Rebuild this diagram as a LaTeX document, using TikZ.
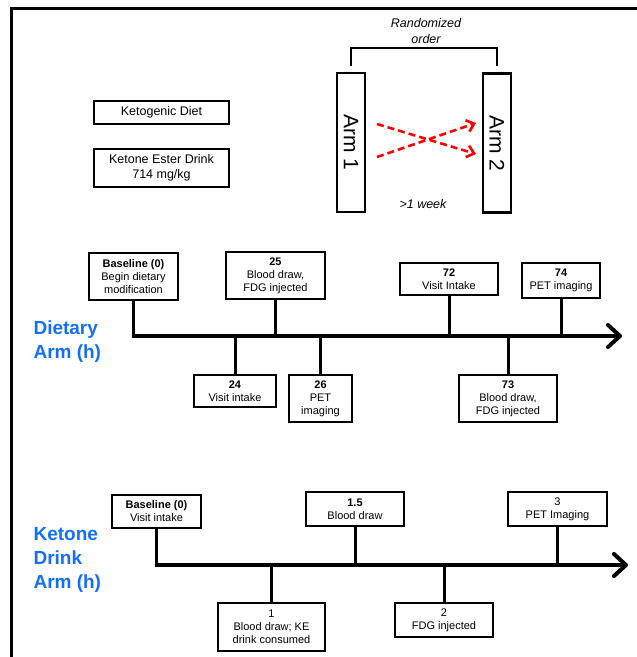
\documentclass[tikz,border=0pt]{standalone}
\usepackage{fontspec}
\setmainfont{Liberation Sans}
\usepackage{tikz}
\usetikzlibrary{arrows.meta}
\definecolor{armblue}{RGB}{20,110,250}

\begin{document}
\begin{tikzpicture}[
    x=1pt, y=-1pt,
    box/.style={draw, line width=2.5pt, inner sep=0pt, align=center},
    event/.style={draw, line width=2.2pt, inner sep=0pt, align=center, font=\fontsize{11}{13}\selectfont},
    armbox/.style={draw, line width=2.8pt, inner sep=0pt, rotate=-90, minimum width=139pt, minimum height=28pt, font=\fontsize{21}{24}\selectfont},
    armlabel/.style={anchor=west, align=left, text=armblue, font=\bfseries\fontsize{19}{24}\selectfont},
    note/.style={align=center, font=\itshape\fontsize{12.5}{16}\selectfont},
    stem/.style={line width=3pt},
    axis/.style={line width=4pt, -{Straight Barb[length=12pt, width=22pt, round]}},
    swap/.style={red, line width=2.6pt, dash pattern=on 7pt off 4pt, -{Straight Barb[length=7pt, width=12pt]}}
]
\useasboundingbox (0,0) rectangle (637,657);

% Frame
\draw[line width=3pt] (11,657) -- (11,8) -- (638,8);

% Define legend boxes
\node[box, minimum width=135pt, minimum height=23pt, font=\fontsize{12.5}{15}\selectfont] (keto) at (161.5,112.5) {Ketogenic Diet};
\node[box, minimum width=135pt, minimum height=38pt, font=\fontsize{12.5}{15}\selectfont] (ester) at (161.5,168) {Ketone Ester Drink\\714 mg/kg};

% Define crossover arms
\node[armbox] (arm1) at (351,142.5) {Arm 1};
\node[armbox] (arm2) at (497,143) {Arm 2};
\node[note] (rand) at (426,31) {Randomized\\order};
\node[note] (week) at (423,204) {>1 week};
\coordinate (a1) at (377,124);
\coordinate (a2) at (476,154);
\coordinate (b1) at (377,157);
\coordinate (b2) at (476,123);

\draw[line width=1.8pt] ([yshift=6pt]arm1.west) -- ++(0,-18) -| ([yshift=6pt]arm2.west);
\draw[swap] (a1) -- (a2);
\draw[swap] (b1) -- (b2);

% Dietary arm
\node[armlabel] (dlab) at (30,342) {Dietary\\Arm (h)};
\coordinate (dend) at (622,336);

\node[event, minimum width=89pt, minimum height=47pt] (d0) at (133.5,276.5) {\textbf{Baseline (0)}\\Begin dietary\\modification};
\node[event, minimum width=99pt, minimum height=47pt] (d25) at (275.5,275.5) {\textbf{25}\\Blood draw,\\FDG injected};
\node[event, minimum width=98pt, minimum height=32pt] (d72) at (449,279) {\textbf{72}\\Visit Intake};
\node[event, minimum width=78pt, minimum height=35pt] (d74) at (561,280.5) {\textbf{74}\\PET imaging};
\node[event, minimum width=82pt, minimum height=32pt] (d24) at (235,391) {\textbf{24}\\Visit intake};
\node[event, minimum width=63pt, minimum height=47pt] (d26) at (320.5,398.5) {\textbf{26}\\PET\\imaging};
\node[event, minimum width=98pt, minimum height=47pt] (d73) at (508,398.5) {\textbf{73}\\Blood draw,\\FDG injected};

\draw[stem] (d0.south) -- (d0.south |- dend);
\foreach \n in {d25,d72,d74} {
    \draw[stem] (\n.south) -- (\n.south |- dend);
}
\foreach \n in {d24,d26,d73} {
    \draw[stem] (\n.north) -- (\n.north |- dend);
}
\draw[axis] ([xshift=-1.5pt]d0.south |- dend) -- (dend);

% Ketone drink arm
\node[armlabel] (klab) at (30,560) {Ketone\\Drink\\Arm (h)};
\coordinate (kend) at (628,565);

\node[event, minimum width=89pt, minimum height=33pt] (k0) at (156.5,511.5) {\textbf{Baseline (0)}\\Visit intake};
\node[event, minimum width=98pt, minimum height=34pt] (k15) at (355,509) {\textbf{1.5}\\Blood draw};
\node[event, minimum width=99pt, minimum height=34pt] (k3) at (557.5,509) {3\\PET Imaging};
\node[event, minimum width=107pt, minimum height=48pt] (k1) at (271.5,627) {1\\Blood draw; KE\\drink consumed};
\node[event, minimum width=98pt, minimum height=34pt] (k2) at (444,620) {2\\FDG injected};

\foreach \n in {k0,k15,k3} {
    \draw[stem] (\n.south) -- (\n.south |- kend);
}
\foreach \n in {k1,k2} {
    \draw[stem] (\n.north) -- (\n.north |- kend);
}
\draw[axis] ([xshift=-1.5pt]k0.south |- kend) -- (kend);

\end{tikzpicture}
\end{document}
